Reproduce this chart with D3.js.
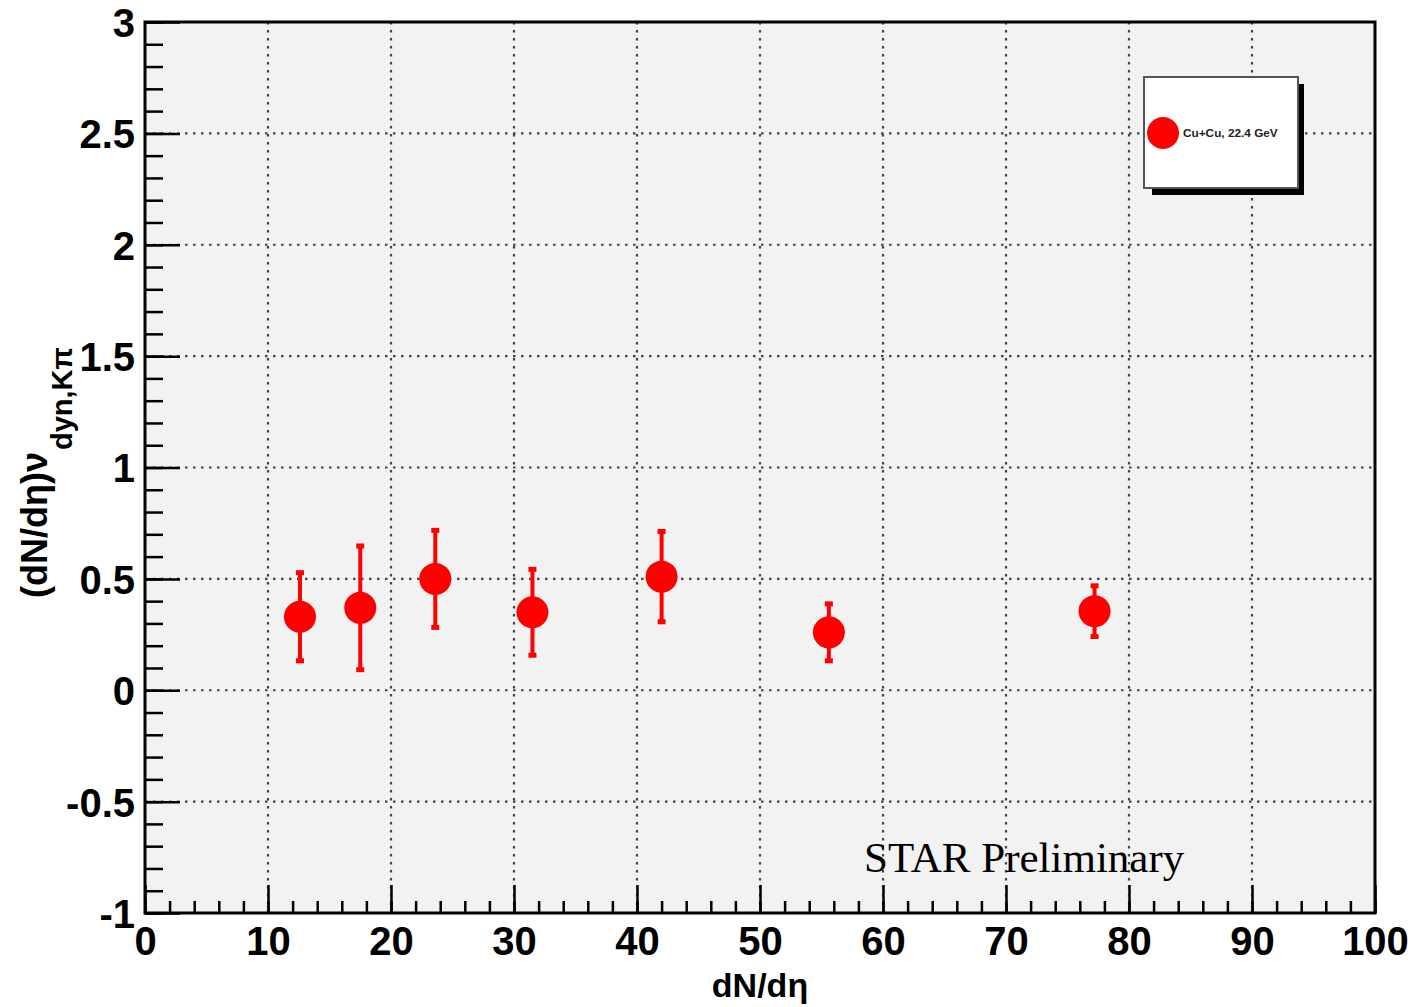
<!DOCTYPE html>
<html>
<head>
<meta charset="utf-8">
<script src="https://cdn.jsdelivr.net/npm/d3@7"></script>
<style>
  body { margin: 0; background: #fff; }
  svg { display: block; }
  .tick text { font-family: "Liberation Sans", Arial, sans-serif; font-weight: bold; fill: #000; }
</style>
</head>
<body>
<div class="chart"></div>
<script>
// Cu+Cu 22.4 GeV, (dN/deta) nu_dyn,Kpi vs dN/deta
let dNdeta = [12.6, 17.5, 23.6, 31.5, 42.0, 55.6, 77.2]
let nuDyn = [0.33, 0.37, 0.50, 0.35, 0.51, 0.26, 0.355]
let nuErr = [0.20, 0.28, 0.22, 0.195, 0.205, 0.13, 0.116]
let xMajorTicks = [0, 10, 20, 30, 40, 50, 60, 70, 80, 90, 100]
let yMajorTicks = [-1, -0.5, 0, 0.5, 1, 1.5, 2, 2.5, 3]
let seriesName = "Cu+Cu, 22.4 GeV"

let points = dNdeta.map((x, i) => ({ x: x, y: nuDyn[i], e: nuErr[i] }))

let width = 1416, height = 1007
let plotLeft = 145, plotRight = 1375, plotTop = 22, plotBottom = 913

let svg = d3.select(".chart")
  .append("svg")
  .attr("width", width)
  .attr("height", height)

let x = d3.scaleLinear().domain([0, 100]).range([plotLeft, plotRight])
let y = d3.scaleLinear().domain([-1, 3]).range([plotBottom, plotTop])

// plot background
svg.append("rect")
  .attr("x", plotLeft).attr("y", plotTop)
  .attr("width", plotRight - plotLeft).attr("height", plotBottom - plotTop)
  .attr("fill", "#f2f2f2")

// dotted grid
let grid = svg.append("g")
grid.selectAll(".gx")
  .data(xMajorTicks.filter(d => d > 0 && d < 100))
  .enter().append("line")
  .attr("x1", d => x(d)).attr("x2", d => x(d))
  .attr("y1", plotTop).attr("y2", plotBottom)
  .attr("stroke", "#444").attr("stroke-width", 2.2)
  .attr("stroke-dasharray", "2.5,5.5")
grid.selectAll(".gy")
  .data(yMajorTicks.filter(d => d > -1 && d < 3))
  .enter().append("line")
  .attr("x1", plotLeft).attr("x2", plotRight)
  .attr("y1", d => y(d)).attr("y2", d => y(d))
  .attr("stroke", "#444").attr("stroke-width", 2.2)
  .attr("stroke-dasharray", "2.5,5.5")

let fmt = d => String(+d.toFixed(1))

// minor ticks
svg.append("g")
  .attr("transform", `translate(0,${plotBottom})`)
  .call(d3.axisBottom(x).tickValues(d3.range(0, 101, 2)).tickSize(-12).tickFormat(""))
  .call(g => g.select(".domain").remove())
  .call(g => g.selectAll("line").attr("stroke", "#000").attr("stroke-width", 2.5))

svg.append("g")
  .attr("transform", `translate(${plotLeft},0)`)
  .call(d3.axisLeft(y).tickValues(d3.range(-10, 31, 1).map(d => d / 10)).tickSize(-18).tickFormat(""))
  .call(g => g.select(".domain").remove())
  .call(g => g.selectAll("line").attr("stroke", "#000").attr("stroke-width", 2.5))

// major ticks and labels
svg.append("g")
  .attr("transform", `translate(0,${plotBottom})`)
  .call(d3.axisBottom(x).tickValues(xMajorTicks).tickSize(-28).tickPadding(14).tickFormat(fmt))
  .call(g => g.select(".domain").remove())
  .call(g => g.selectAll("line").attr("stroke", "#000").attr("stroke-width", 2.5))
  .call(g => g.selectAll("text").attr("font-size", 40))

svg.append("g")
  .attr("transform", `translate(${plotLeft},0)`)
  .call(d3.axisLeft(y).tickValues(yMajorTicks).tickSize(-35).tickPadding(10).tickFormat(fmt))
  .call(g => g.select(".domain").remove())
  .call(g => g.selectAll("line").attr("stroke", "#000").attr("stroke-width", 2.5))
  .call(g => g.selectAll("text").attr("font-size", 40).attr("dy", "0.36em"))

// frame
svg.append("rect")
  .attr("x", plotLeft).attr("y", plotTop)
  .attr("width", plotRight - plotLeft).attr("height", plotBottom - plotTop)
  .attr("fill", "none").attr("stroke", "#000").attr("stroke-width", 3)

// error bars
let marks = svg.append("g")
marks.selectAll(".err")
  .data(points)
  .enter().append("line")
  .attr("x1", d => x(d.x)).attr("x2", d => x(d.x))
  .attr("y1", d => y(d.y + d.e)).attr("y2", d => y(d.y - d.e))
  .attr("stroke", "#ff0000").attr("stroke-width", 4)
marks.selectAll(".capTop")
  .data(points)
  .enter().append("rect")
  .attr("x", d => x(d.x) - 4).attr("y", d => y(d.y + d.e) - 2)
  .attr("width", 8).attr("height", 5)
  .attr("fill", "#ff0000")
marks.selectAll(".capBot")
  .data(points)
  .enter().append("rect")
  .attr("x", d => x(d.x) - 4).attr("y", d => y(d.y - d.e) - 3)
  .attr("width", 8).attr("height", 5)
  .attr("fill", "#ff0000")
marks.selectAll("circle")
  .data(points)
  .enter().append("circle")
  .attr("cx", d => x(d.x)).attr("cy", d => y(d.y))
  .attr("r", 16)
  .attr("fill", "#ff0000")

// legend
let legend = svg.append("g")
legend.append("rect")
  .attr("x", 1152).attr("y", 84).attr("width", 152).attr("height", 111)
  .attr("fill", "#000")
legend.append("rect")
  .attr("x", 1144).attr("y", 77).attr("width", 154).attr("height", 111)
  .attr("fill", "#fff").attr("stroke", "#555").attr("stroke-width", 2)
legend.append("circle")
  .attr("cx", 1163).attr("cy", 133).attr("r", 16)
  .attr("fill", "#ff0000")
legend.append("text")
  .attr("x", 1183).attr("y", 137)
  .attr("font-family", "Liberation Sans, Arial, sans-serif")
  .attr("font-weight", "bold").attr("font-size", 11.8)
  .attr("fill", "#222")
  .text(seriesName)

// axis titles
svg.append("text")
  .attr("x", (plotLeft + plotRight) / 2).attr("y", 997)
  .attr("text-anchor", "middle")
  .attr("font-family", "Liberation Sans, Arial, sans-serif")
  .attr("font-weight", "bold").attr("font-size", 34)
  .text("dN/dη")

let yTitle = svg.append("text")
  .attr("transform", "translate(47,598) rotate(-90)")
  .attr("font-family", "Liberation Sans, Arial, sans-serif")
  .attr("font-weight", "bold").attr("font-size", 36)
yTitle.append("tspan").text("(dN/dη)ν")
yTitle.append("tspan").attr("dy", 25).attr("dx", 2).attr("font-size", 29).text("dyn,Kπ")

// watermark
svg.append("text")
  .attr("x", 864).attr("y", 872)
  .attr("font-family", "Liberation Serif, Times New Roman, serif")
  .attr("font-size", 43)
  .attr("fill", "#000")
  .text("STAR Preliminary")
</script>
</body>
</html>
